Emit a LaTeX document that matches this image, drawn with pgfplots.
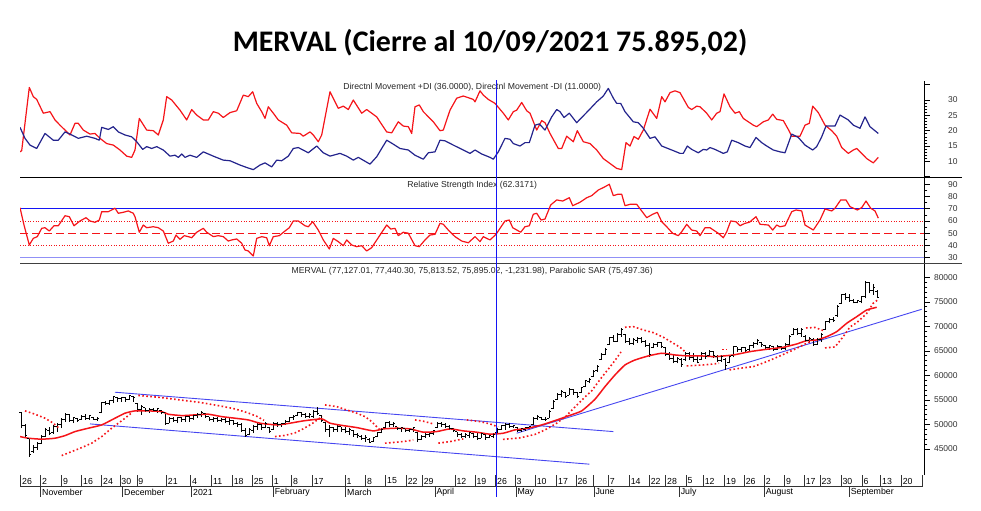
\documentclass[border=0pt]{standalone}
\usepackage{pgfplots}
\pgfplotsset{compat=1.18}
\usepackage{pgfplotstable}
\usepackage{fontspec}
\setmainfont{Liberation Sans}
\newfontfamily\titlefont{Carlito}
\definecolor{lred}{RGB}{245,20,25}
\definecolor{lnavy}{RGB}{35,35,140}
\definecolor{lblue}{RGB}{20,20,245}
\definecolor{tblue}{RGB}{70,70,240}

\pgfdeclareplotmark{otick}{\pgfpathmoveto{\pgfpoint{-1.7bp}{0pt}}\pgfpathlineto{\pgfpoint{0pt}{0pt}}\pgfusepathqstroke}
\pgfdeclareplotmark{ctick}{\pgfpathmoveto{\pgfpoint{0pt}{0pt}}\pgfpathlineto{\pgfpoint{1.7bp}{0pt}}\pgfusepathqstroke}

\pgfplotsset{panel/.style={
  scale only axis, width=904.3bp, xmin=20, xmax=924.3, anchor=south west,
  axis x line=none, axis y line*=right, xtick=\empty,
  axis line style={-, black, line width=0.6bp},
  ytick style={black, line width=0.6bp},
  major tick length=5.5bp, minor tick length=3bp, tick align=outside,
  yticklabel style={font=\fontsize{8.5}{10}\selectfont, text=black!80, anchor=east, inner sep=0pt},
  yticklabel shift=28bp,
  scaled y ticks=false,
  /pgf/number format/assume math mode=true,
  /pgf/number format/set thousands separator={},
  every axis plot/.append style={line join=round},
}}

\pgfplotstableread{
x o h l c
21 52400 52620 49240 49800
25 49800 50120 47270 47700
29 47200 47270 43460 43900
33 44500 45840 44210 45400
37 45300 46510 44820 46200
41 46200 47880 46040 47600
45 47600 49240 47530 48900
49 48700 49570 47880 48200
53 48300 49910 48080 49600
57 49500 50260 48550 50000
61 50000 51280 49240 51000
65 51000 52300 50590 52000
69 52000 52150 50530 50800
73 50800 51600 50260 51400
77 51300 51400 50590 50800
81 51000 51950 50930 51700
85 51700 52150 50930 51300
89 51300 51950 50930 51800
93 51500 51600 50930 51100
97 51100 51600 50730 51300
101 52400 54660 52300 54400
105 54400 54800 53990 54300
109 54300 55010 53990 54800
113 54800 55880 54330 55700
117 55600 55680 54660 55200
121 55200 55680 54660 55500
125 55500 55620 54600 55000
129 55100 56020 55010 55900
133 55800 55880 54660 55600
137 54200 54330 52620 53000
141 53000 53990 51950 53600
145 53400 53440 52560 52900
149 52900 53320 52300 53100
153 53100 53320 52620 52800
157 52800 53320 52300 53200
161 52900 52970 52090 52400
165 52400 52620 49910 50300
169 50300 51600 50260 51300
173 51300 51600 50590 50900
177 50900 51600 50260 51400
181 51400 51600 50590 51000
185 51000 51950 50590 51700
189 51700 51950 50590 51200
193 51200 52090 50930 51900
197 51900 52300 51280 52100
201 52100 52770 51600 52500
205 52200 52300 51280 51600
209 51600 51600 50730 51000
213 51000 51600 50590 51300
217 51300 51600 50590 50900
221 50900 51280 50460 51100
225 51000 51280 50260 50600
229 50600 51280 49910 50900
233 50800 50930 49910 50300
237 50300 50590 49570 49900
241 49900 50260 48550 48800
245 48800 49240 47530 47800
249 47900 49360 47880 48900
253 48800 49910 48220 49500
257 49500 50260 48900 49900
261 49900 50260 48900 49300
265 49300 50590 49240 50300
269 49400 49570 48220 48500
273 48900 50590 48900 50300
277 50300 50590 49570 50000
281 50000 50260 49570 50100
285 50100 50930 49910 50700
289 50700 51600 50590 51400
293 51400 51950 50930 51700
297 51800 52620 51750 52400
301 52400 52620 51600 52000
305 52000 52300 51280 51700
309 51700 52300 51280 52000
313 51700 52970 51280 52700
317 52700 53640 51950 52200
321 51900 51950 50590 50800
325 50500 50590 48550 49000
329 49000 49910 47530 49400
333 49400 49570 48550 48900
337 48900 49910 48550 49600
341 49500 49570 48550 49000
345 49000 49570 48220 48600
349 48600 49240 47880 48900
353 48700 48900 47530 47900
357 47900 48220 47200 47700
361 47600 47880 46860 47100
365 47100 47880 46510 47400
369 47000 47200 46190 46400
373 46600 47530 46510 47300
377 47600 48550 47530 48300
381 48300 49240 48220 49000
385 49300 50590 49240 50400
389 50400 50730 49570 49900
393 49900 50590 49570 50300
397 49500 49570 48900 49100
401 49100 49570 48550 49300
405 49100 49240 48430 48700
409 48700 49240 48430 49000
413 49000 49570 48550 49300
417 48400 48550 46510 46900
421 46900 47880 46860 47500
425 47500 48220 47200 47900
429 47900 48550 47530 48200
433 48200 48900 47880 48700
437 49300 50460 49240 50300
441 50300 50590 49570 50000
445 50000 50260 49240 49600
449 49600 49910 48900 49200
453 49200 49360 48550 48800
457 48500 48550 47530 47900
461 47900 48220 47200 47600
465 47600 48220 47200 47900
469 47800 48550 47200 48300
473 48200 48220 47200 47500
477 47500 48220 46860 47100
481 47200 48550 47200 48200
485 48000 48220 46860 47300
489 47300 47880 47200 47700
493 47600 48220 47200 48000
497 48300 49240 48220 49000
501 49000 49910 48900 49700
505 49700 50260 48900 50000
509 50000 50260 49240 49500
513 49500 49910 49240 49700
517 49300 49450 48550 48800
521 48800 49240 48550 49100
525 49000 49570 48750 49400
529 49400 49710 49040 49600
533 50000 51600 49910 51300
537 51300 51950 50930 51600
541 51500 51600 50930 51100
545 51100 51540 50730 51000
549 51300 52970 51280 52700
553 53300 55010 53170 54700
557 55100 56370 55010 56200
561 56200 57040 55680 56700
565 56500 56700 55350 55800
569 56000 57390 56020 57200
573 57200 57250 56020 56500
577 56500 56700 55350 55800
581 56500 57720 56370 57500
585 57800 59080 57720 58900
589 58800 59430 58410 59200
593 59800 61120 59750 60900
597 61000 62140 60710 61900
601 63300 64520 63150 64300
605 64300 65540 64170 65300
609 66300 67900 66210 67700
613 67700 68250 66880 67000
617 67000 68650 66820 68400
621 68300 69610 67900 69300
625 68400 68450 66620 67000
629 67000 67570 66210 66600
633 66600 67570 66210 67300
637 67200 67900 66560 67600
641 67600 67900 66560 66900
645 66900 67230 65800 66200
649 66200 66560 63830 64300
653 65700 66560 65540 66300
657 66300 66880 65860 66700
661 66700 66880 65540 65800
665 65600 65700 63980 64300
669 64300 64850 63150 63500
673 63500 64170 62480 62800
677 62800 63830 62480 63500
681 63200 63510 61800 62200
685 63200 64780 62950 64500
689 64500 64850 63150 63600
693 63600 64520 62810 63200
697 63200 64170 62480 62700
701 63200 64780 63150 64500
705 64500 64780 63360 63800
709 64000 65190 63770 64900
713 64800 64990 63560 64000
717 63900 64170 62810 63100
721 63100 64170 62810 63800
725 63200 63510 61120 62000
729 62600 64170 62480 63900
733 64000 66010 63700 65800
737 65800 65860 64850 65200
741 65200 65860 64850 65700
745 65600 65860 64850 65100
749 65200 66210 64850 66000
753 66000 66880 65540 66600
757 66600 67430 66210 67200
761 66800 66880 65860 66300
765 66100 66210 65190 65600
769 65600 66210 65190 66000
773 65900 65910 64990 65300
777 65300 66210 65190 65900
781 65800 66010 65190 65400
785 65400 66560 65190 66300
789 66400 68250 66210 68000
793 68300 69610 68250 69300
797 69300 69610 68250 68600
801 68600 69610 67900 69400
805 68000 68250 66880 67200
809 67200 67900 66560 67600
813 67400 67640 66010 66400
817 66400 67570 66210 67300
821 67300 68590 66880 68400
825 69400 71100 69270 70900
829 70900 71650 70630 71500
833 71500 71970 70960 71200
837 72200 74360 71970 74100
841 74600 76600 74560 76400
845 76400 76740 75380 75800
849 75800 76600 75030 75300
853 75300 75580 74700 74900
857 74900 75380 74700 75200
861 75000 76190 74700 76000
865 76100 79310 75720 79000
869 78900 79100 76740 77300
873 77300 78640 76400 77900
877 77127.01 77440.30 75813.52 75895.02
}\bars

\begin{document}
\begin{tikzpicture}
\path[use as bounding box] (0,0) rectangle (981bp,-511bp);
\node[font=\titlefont\bfseries\fontsize{30}{34}\selectfont, inner sep=0pt] at (490bp,-43bp) {MERVAL (Cierre al 10/09/2021 75.895,02)};

% ---------------- DMI ----------------
\begin{axis}[panel, at={(20bp,-177.3bp)}, height=96.3bp, ymin=4.8, ymax=36.2,
  ytick={10,15,...,30}, extra y ticks={5,35}, extra y tick labels={}, minor y tick num=4]
\addplot[lred, line width=1.2bp] coordinates {
(20,13.1) (21.7,13.5) (29.3,34.1) (33.3,31.1) (36.7,30.2) (43.3,25.7) (50,26.2) (55,23.5) (60,21.8) (65,20.2) (70,18.6) (75,22.4) (78.3,22.4) (83.3,20.2) (90,18.9) (95,19.1) (100,17.5) (106.7,15.8) (113.3,15.3) (120,13.7) (126.7,11.7) (131.7,11.3) (135,13.7) (139.3,24.0) (146.7,20.2) (153.3,20.0) (158.3,18.6) (163.3,23.5) (166.7,31.1) (171.7,30.0) (180,26.7) (186.7,23.5) (191.7,26.9) (196.7,25.1) (203.3,23.5) (208.3,23.5) (213.3,26.2) (218.3,25.7) (223.3,24.3) (230,25.9) (236.7,26.5) (243.3,31.6) (248.3,31.1) (252.7,32.7) (256.7,28.9) (261.7,26.2) (265,24.0) (268.3,27.8) (273.3,25.7) (278.3,23.5) (286.7,21.8) (291.7,19.3) (300,19.1) (303.3,18.2) (310,19.6) (313.3,18.6) (318.3,16.4) (321.7,18.6) (330,32.7) (338.3,27.3) (343.3,28.0) (348.3,26.9) (353.3,30.0) (361.7,25.7) (366.7,26.9) (376.7,24.5) (386.7,19.6) (391.7,19.3) (398.3,22.9) (403.3,21.5) (408.3,21.3) (411.7,19.1) (415,27.8) (419.3,28.4) (423.3,26.2) (433.3,22.9) (440,20.0) (443.3,20.2) (450,26.7) (456.7,30.6) (463.3,31.3) (473.3,30.2) (475,29.4) (480,33.0) (483.3,31.6) (488.3,30.2) (495,28.9) (503.3,25.7) (508.3,23.5) (513.3,26.2) (516.7,26.7) (521.7,29.2) (526.7,26.5) (530,25.7) (536.7,20.2) (541.7,23.3) (545,22.6) (550,19.1) (558.3,14.2) (561.7,14.2) (566.7,18.2) (573.3,16.4) (577.3,20.0) (583.3,16.4) (590,15.8) (596.7,13.7) (603.3,10.9) (610,9.3) (616.7,7.7) (621.7,7.3) (626,16.1) (630,15.0) (634,18.1) (638.3,17.2) (643.3,20.2) (650,27.0) (656.7,24.0) (661.7,31.1) (665,29.4) (670,32.4) (675,33.0) (680,32.4) (688.3,27.6) (691.7,26.9) (696.7,28.0) (700,27.8) (706.7,25.7) (711.7,23.5) (716.7,25.7) (720,26.2) (724,32.0) (730,27.8) (735,25.7) (739.3,26.2) (743.3,24.0) (753.3,21.8) (756.7,21.3) (763.3,22.9) (768.3,23.5) (772.7,25.4) (776.7,23.7) (783.3,23.3) (788.3,20.4) (791.7,18.2) (800,18.2) (805,21.8) (809.3,22.4) (812.7,28.0) (818.3,25.9) (825,21.8) (831.7,20.0) (836.7,18.2) (841.7,14.5) (848.3,12.6) (853.3,13.7) (856.7,14.2) (861.7,12.6) (866.7,10.9) (873.3,9.5) (878.3,11.3)};
\addplot[lnavy, line width=1.2bp] coordinates {
(20,21.1) (25,17.5) (30,15.3) (36.7,14.2) (45,19.1) (53.3,16.9) (58.3,16.9) (65,19.6) (70,18.9) (78.3,17.5) (86.7,18.2) (95,17.5) (99.3,16.9) (101.7,21.1) (108.3,20.4) (113.3,21.3) (118.3,19.6) (125,18.6) (131.7,18.0) (136.7,16.4) (142.7,13.9) (146.7,14.8) (151.7,14.2) (156.7,14.8) (163.3,13.7) (170,11.7) (175,12.0) (178.3,11.3) (181.7,12.4) (185,11.3) (190,12.0) (196.7,11.3) (203.3,13.1) (213.3,11.7) (223.3,10.4) (230,10.2) (240,8.8) (246.7,8.0) (253.3,7.3) (260,8.8) (265,9.5) (271.7,8.2) (276.7,10.4) (281.7,10.2) (288.3,11.7) (293.3,14.2) (298.3,14.5) (308.3,12.8) (316.7,15.0) (323.3,12.8) (330,11.7) (340,12.6) (346.7,11.7) (353.3,10.4) (358.3,11.3) (370,9.1) (376.7,11.5) (386.7,16.9) (393.3,15.6) (400,14.2) (408.3,13.7) (415,12.0) (423.3,10.7) (428.3,12.8) (435,13.1) (440,16.9) (445,16.7) (453.3,15.3) (463.3,13.7) (470,12.6) (475,13.7) (481.7,12.4) (490,11.3) (493.3,10.7) (498.3,13.1) (505,17.5) (510,17.2) (513.3,15.8) (520,15.0) (525,16.1) (529.3,16.1) (535,21.8) (539.3,22.2) (545,20.2) (551.7,24.5) (556.7,26.9) (560,26.2) (564,24.3) (569.3,25.7) (576.7,22.6) (581.7,24.3) (588.3,26.5) (596.7,29.4) (603.3,31.3) (608.3,33.8) (613.3,30.6) (616.7,28.9) (620.7,28.9) (625,26.2) (633.3,22.9) (638.3,22.6) (643.3,20.8) (650,17.5) (655,18.0) (661.7,15.0) (673.3,13.5) (680,12.6) (683.3,12.6) (687.3,15.0) (691.7,13.9) (698.3,12.8) (703.3,13.9) (706.7,13.7) (710,14.5) (715,13.9) (723.3,12.6) (727.3,13.1) (731.7,16.9) (738.3,16.1) (745,15.0) (750,14.5) (756,17.8) (761.7,16.1) (766.7,15.0) (773.3,13.7) (780,13.1) (785,12.8) (791.7,18.9) (798.3,17.8) (805,15.3) (812.7,13.7) (816.7,14.8) (821.7,18.0) (826,21.5) (835,21.5) (840,25.1) (848.3,23.5) (853.3,21.8) (860,20.8) (865,24.5) (870,21.3) (878.3,19.1)};
\end{axis}

% ---------------- RSI ----------------
\begin{axis}[panel, at={(20bp,-262.7bp)}, height=85.4bp, ymin=25.9, ymax=95.7,
  ytick={30,40,...,90}, minor y tick num=1]
\addplot[lblue, line width=0.8bp] coordinates {(20,70) (924.3,70)};
\addplot[tblue!60, line width=1.6bp] coordinates {(20,30) (924.3,30)};
\addplot[lred, line width=0.9bp, dash pattern=on 1bp off 1.6bp] coordinates {(20,60) (924.3,60)};
\addplot[lred, line width=0.9bp, dash pattern=on 1bp off 1.6bp] coordinates {(20,40) (924.3,40)};
\addplot[lred, line width=1bp, dash pattern=on 8bp off 4bp] coordinates {(20,50) (924.3,50)};
\addplot[lred, line width=1.2bp] coordinates {
(20,70.9) (24,56.7) (29.3,40.4) (33.3,45.8) (37.3,47.2) (41.7,54.0) (45,54.5) (49.3,51.8) (54,56.1) (58.3,56.1) (65,64.3) (69.3,63.5) (74,56.1) (80,60.0) (86,62.7) (90,60.0) (95,58.9) (99.3,60.8) (101.7,67.6) (108.3,67.6) (115,70.4) (118.3,66.3) (123.3,67.1) (128.3,68.2) (133.3,66.3) (135,63.5) (139.3,50.8) (143.3,56.7) (146.7,54.5) (153.3,55.3) (158.3,54.5) (163.3,51.8) (168.3,41.8) (173.3,43.6) (176,48.5) (180,45.0) (184.3,48.0) (188.3,47.2) (191.7,46.3) (196.7,50.8) (203.3,54.0) (206.7,50.8) (213.3,47.2) (218.3,48.0) (223.3,47.2) (228.3,43.6) (231.7,44.5) (236.7,45.3) (241.7,41.8) (245,36.3) (248.3,35.5) (253.3,31.4) (256.7,45.8) (261.7,47.2) (266.7,46.3) (269.3,39.8) (273.3,47.2) (279.3,48.0) (285,51.8) (289.3,54.5) (293.3,60.0) (298.3,60.0) (305,56.1) (308.3,55.3) (312.7,59.4) (318.3,52.6) (323.3,44.5) (329.3,37.1) (333.3,45.8) (338.3,43.1) (343.3,39.8) (346.7,44.5) (351.7,40.4) (356.7,39.0) (361.7,39.8) (366.7,35.5) (371.7,38.2) (380,48.5) (386.7,56.7) (390.7,53.4) (395,54.0) (398.3,48.0) (403.3,50.8) (408.3,50.0) (415,39.8) (419.3,39.0) (425,44.5) (430,48.5) (435,49.1) (440,58.1) (443.3,57.3) (448.3,52.6) (455,47.2) (461.7,43.6) (468.3,42.2) (475,47.2) (480,43.1) (483.3,47.2) (490,44.5) (496,49.1) (500,54.0) (505,60.0) (509.3,60.8) (512.7,54.5) (520.7,50.8) (525,55.3) (529.3,56.1) (533.3,65.5) (536.7,66.3) (541,60.8) (545,61.6) (550.7,73.1) (556.7,77.2) (562.7,76.3) (569.3,79.0) (572.7,72.5) (580,75.3) (586.7,79.0) (591.7,80.7) (598.3,85.3) (605,88.0) (609.3,90.0) (613.3,80.7) (617.7,81.8) (621.7,81.8) (625,72.5) (630,73.6) (636.7,73.6) (641.7,68.2) (646.7,62.7) (652.7,65.5) (657.3,67.1) (661.7,59.4) (666.7,55.3) (672.7,49.9) (678.3,48.0) (681.7,51.2) (686.7,57.3) (691.7,52.6) (696.7,51.8) (700,48.0) (705,54.5) (710,54.5) (718.3,49.9) (723.3,46.3) (726.7,51.2) (730.7,60.0) (736,59.4) (740,56.1) (745,58.1) (749.3,58.9) (756,63.5) (760,57.3) (768.3,56.7) (772.7,52.6) (776.7,56.7) (780,55.3) (785,56.1) (791.7,67.6) (796,69.0) (801.7,68.2) (805,56.7) (813.3,52.6) (820,60.8) (825,69.8) (831.7,68.2) (835,70.4) (840.7,77.2) (846,77.2) (850,71.7) (857.3,69.0) (861.7,70.9) (866,76.3) (870.7,70.4) (875,68.2) (878.3,62.3)};
\end{axis}

% ---------------- Price ----------------
\begin{axis}[panel, at={(20bp,-475bp)}, height=212.3bp, ymin=39700, ymax=82975,
  ytick={45000,50000,...,80000}, minor y tick num=4]
% trend lines
\addplot[tblue, line width=0.9bp] coordinates {(115,56574) (613.3,48549)};
\addplot[tblue, line width=0.9bp] coordinates {(90,50117) (589.3,41908)};
\addplot[tblue, line width=0.9bp] coordinates {(516.7,48223) (921.7,73482)};
% OHLC bars
\addplot[draw=none, mark=none, error bars/.cd, y dir=plus, y explicit, error mark=none,
  error bar style={black, line width=1bp}]
  table[x=x, y=l, y error expr=\thisrow{h}-\thisrow{l}] {\bars};
\addplot[only marks, mark=otick, mark options={black, line width=1bp}] table[x=x, y=o] {\bars};
\addplot[only marks, mark=ctick, mark options={black, line width=1bp}] table[x=x, y=c] {\bars};
% moving average
\addplot[lred, line width=1.5bp, smooth, tension=0.3] coordinates {
(20,47530) (28.3,47200) (41.7,47000) (55,47200) (65,47730) (75,48550) (88.3,49240) (101.7,49910) (115,51280) (125,52300) (135,52770) (148.3,52770) (161.7,52620) (168.3,52090) (181.7,51810) (195,51950) (208.3,52090) (221.7,51600) (235,51280) (248.3,50930) (260,50260) (276.7,49910) (290,50260) (303.3,50730) (321.7,51130) (330,50260) (343.3,49770) (356.7,49370) (373.3,48690) (383.3,49100) (396.7,49240) (410,49100) (423.3,48430) (436.7,48550) (450,49100) (463.3,48690) (476.7,48430) (490,48020) (503.3,48220) (515,48900) (528.3,49240) (541.7,49910) (555,50790) (568.3,51750) (581.7,52770) (595,55150) (605,57720) (615,60100) (625,62135) (635,63150) (648.3,63970) (661.7,64520) (675,64170) (688.3,63970) (701.7,63970) (715,63830) (733.3,64170) (750,64850) (766.7,65330) (783.3,65740) (796.7,66410) (806.7,67090) (816.7,67230) (826.7,67900) (836.7,68920) (846.7,70630) (856.7,71970) (866.7,73340) (876.7,73890)};
% parabolic SAR
\pgfplotsset{sar/.style={lred, line width=1.6bp, dash pattern=on 1.6bp off 2.4bp}}
\addplot[sar] coordinates {(25,52765) (35,52093) (45,51278) (53.3,50260) (58.3,49364)};
\addplot[sar] coordinates {(61.7,43660) (71.7,44475) (81.7,45290) (91.7,46186) (101.7,47530) (111.7,49241) (118.3,50260) (125,51278) (131,52256)};
\addplot[sar] coordinates {(138.3,55923) (160,55515) (180,55006) (200,54497) (220,53784) (235,53173) (248,52358) (257,51645) (264,50830)};
\addplot[sar] coordinates {(275,47530) (285,47775) (295,48284) (303,49099) (311,50016) (318,51034) (322,51645)};
\addplot[sar] coordinates {(325,53988) (336.7,53641) (346.7,52969) (356.7,52297) (365,51604) (371.7,50586) (376.7,49567) (380,48895)};
\addplot[sar] coordinates {(385,46186) (396.7,46390) (408.3,46655) (413.3,46858)};
\addplot[sar] coordinates {(415,50932) (423.3,50667) (433.3,50117)};
\addplot[sar] coordinates {(438.3,46186) (450,46512) (463.3,47062)};
\addplot[sar] coordinates {(466.7,50932) (480,50586) (490,50117) (498,49506)};
\addplot[sar] coordinates {(503,46960) (520,47265) (535,47978) (545,48895) (556.7,50260) (566,51686) (575,53580) (583,55210) (592,56941) (601,59427) (609,61464) (615,63051) (621,64784)};
\addplot[sar] coordinates {(625,69816) (633.3,69938) (643.3,69266) (653.3,68716) (663.3,67779) (673.3,66557) (680,65742) (685,64846)};
\addplot[sar] coordinates {(686.7,61931) (703.3,62135) (714,62339) (719,62500)};
\addplot[sar] coordinates {(722,65293) (727,65293)};
\addplot[sar] coordinates {(729.5,61117) (740,61464) (753.3,61790) (766.7,62808) (780,63975) (793.3,65191) (803.3,66210) (810,66882)};
\addplot[sar] coordinates {(806,69672) (815,69774) (823,69163)};
\addplot[sar] coordinates {(825,65600) (835,65803) (843,67842) (850,69879) (857,70796) (866.7,72626) (873,74663) (878.3,75497)};
\end{axis}

\begin{scope}[x=1bp, y=-1bp]
% panel titles
\begin{scope}[every node/.style={inner sep=0pt, font=\fontsize{8.7}{10.4}\selectfont, text=black!85}]
\node at (472.2,87.5) {Directnl Movement +DI (36.0000), Directnl Movement -DI (11.0000)};
\node at (472.2,185) {Relative Strength Index (62.3171)};
\node at (472.2,271) {MERVAL (77,127.01, 77,440.30, 75,813.52, 75,895.02, -1,231.98), Parabolic SAR (75,497.36)};
\end{scope}
% separators
\draw[black, line width=0.8bp] (20,177.3) -- (962,177.3);
\draw[black!75, line width=1.5bp] (20,263.6) -- (962,263.6);
% date scale
\draw[black!80, line width=0.6bp] (20,486.7) -- (923,486.7);
\foreach \x/\t in {20.7/26, 40.7/2, 61.7/9, 81.7/16, 101.7/24, 120/30, 137/9, 166.5/21, 190.5/4, 211.7/11, 232.3/18, 252.3/25, 272.3/1, 291.7/8, 312.3/17, 345/1, 365.7/8, 385.7/15, 406.3/22, 422.3/29, 455/12, 475/19, 495.7/26, 515/3, 535.3/10, 556.7/17, 576/26, 608.3/7, 629.3/14, 649.3/22, 665.7/28, 686/5, 703.3/12, 724.7/19, 744.3/26, 764.3/2, 784.7/9, 804.3/17, 820/23, 841/30, 862/6, 880.7/13, 901.3/20}{
  \draw[black!80, line width=0.6bp] (\x,475) -- (\x,486.7);
  \node[anchor=west, inner sep=0pt, font=\fontsize{8.8}{10}\selectfont] at (\x+1.3,481) {\t};
}
\draw[black!80, line width=0.6bp] (593.3,475) -- (593.3,486.7);
\draw[black!80, line width=0.6bp] (922.5,475) -- (922.5,486.7);
\foreach \x/\t in {40.7/November, 122.7/December, 191.7/2021, 273.3/February, 345.7/March, 435/April, 516/May, 594/June, 679.3/July, 764.3/August, 849.3/September}{
  \draw[black!80, line width=0.6bp] (\x,486.7) -- (\x,497);
  \node[anchor=west, inner sep=0pt, font=\fontsize{8.8}{10}\selectfont] at (\x+1.3,492) {\t};
}
% cursor
\draw[lblue, line width=0.9bp] (496,80) -- (496,497);
\end{scope}
\end{tikzpicture}
\end{document}
